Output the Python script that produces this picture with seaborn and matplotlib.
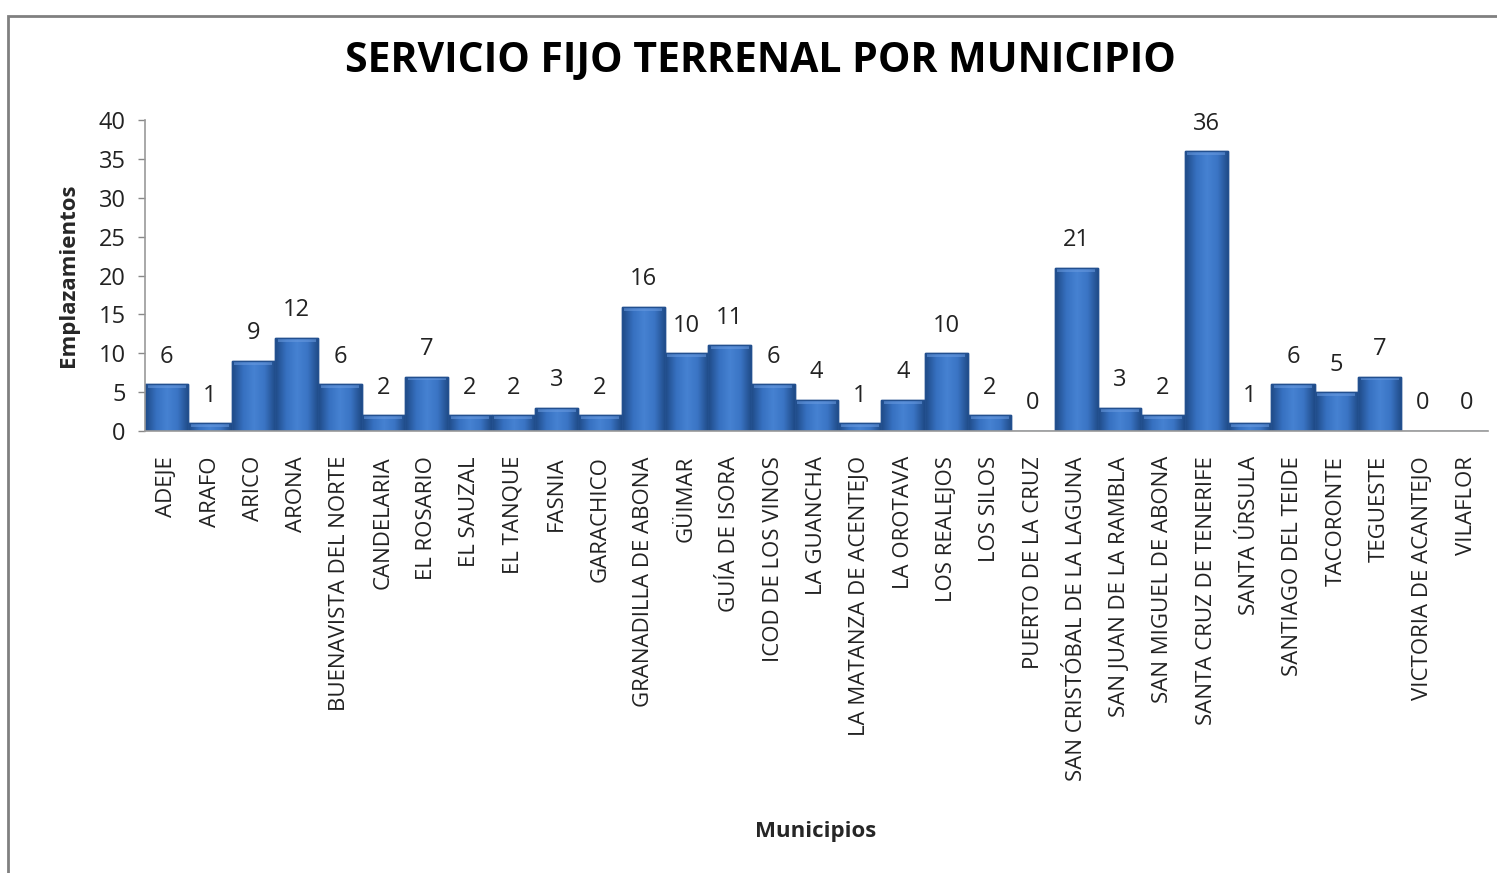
import matplotlib
matplotlib.use("Agg")
import matplotlib.pyplot as plt
import seaborn as sns
import pandas as pd
import numpy as np
from matplotlib.patches import Rectangle
from matplotlib.colors import LinearSegmentedColormap

municipios = ["ADEJE", "ARAFO", "ARICO", "ARONA", "BUENAVISTA DEL NORTE", "CANDELARIA",
              "EL ROSARIO", "EL SAUZAL", "EL TANQUE", "FASNIA", "GARACHICO",
              "GRANADILLA DE ABONA", "GÜIMAR", "GUÍA DE ISORA", "ICOD DE LOS VINOS",
              "LA GUANCHA", "LA MATANZA DE ACENTEJO", "LA OROTAVA", "LOS REALEJOS",
              "LOS SILOS", "PUERTO DE LA CRUZ", "SAN CRISTÓBAL DE LA LAGUNA",
              "SAN JUAN DE LA RAMBLA", "SAN MIGUEL DE ABONA", "SANTA CRUZ DE TENERIFE",
              "SANTA ÚRSULA", "SANTIAGO DEL TEIDE", "TACORONTE", "TEGUESTE",
              "VICTORIA DE ACANTEJO", "VILAFLOR"]
emplazamientos = [6, 1, 9, 12, 6, 2, 7, 2, 2, 3, 2, 16, 10, 11, 6, 4, 1, 4, 10, 2, 0,
                  21, 3, 2, 36, 1, 6, 5, 7, 0, 0]
yticks = [0, 5, 10, 15, 20, 25, 30, 35, 40]

df = pd.DataFrame({"Municipios": municipios, "Emplazamientos": emplazamientos})

sns.set_theme(style="white")
plt.rcParams['font.family'] = ['Open Sans', 'DejaVu Sans']

fig = plt.figure(figsize=(14.97, 8.73), dpi=100)
ax = fig.add_axes([0.0969, 0.5063, 0.897, 0.3562])

sns.barplot(data=df, x="Municipios", y="Emplazamientos", color="#3A6FC1",
            width=1.0, saturation=1, edgecolor="#23508F", linewidth=1.0, ax=ax)

# bevel-like gradient fill clipped to each bar
cmap = LinearSegmentedColormap.from_list(
    "bev", ["#1F4A86", "#3670C0", "#4682D2", "#3A74C4", "#1F4A86"])
grad = np.linspace(0, 1, 64).reshape(1, -1)
for p in list(ax.patches):
    x0, y0 = p.get_x(), p.get_y()
    w, h = p.get_width(), p.get_height()
    if h <= 0:
        continue
    im = ax.imshow(grad, cmap=cmap, aspect="auto", extent=(x0, x0 + w, y0, y0 + h),
                   interpolation="bicubic", zorder=p.get_zorder() + 0.1)
    im.set_clip_path(p)
    # top bevel highlight
    top = min(0.5, h * 0.5)
    ax.add_patch(Rectangle((x0 + 0.06, y0 + h - top), w - 0.12, top * 0.9,
                           facecolor="#6A9BE0", edgecolor="none", alpha=0.55,
                           zorder=p.get_zorder() + 0.2))
    ax.add_patch(Rectangle((x0, y0), w, h, facecolor="none", edgecolor="#23508F",
                           linewidth=1.0, zorder=p.get_zorder() + 0.3))

ax.set_ylim(0, 40)
ax.set_xlim(-0.5, len(municipios) - 0.5)
ax.set_yticks(yticks)
ax.set_yticklabels([str(t) for t in yticks], fontsize=17, color="#222222")
ax.set_xticks(range(len(municipios)))
ax.set_xticklabels(municipios, rotation=90, fontsize=16, color="#222222")
ax.tick_params(axis="y", length=5, width=1, color="#888888", left=True, pad=9)
ax.tick_params(axis="x", length=0, pad=18)

for s in ["top", "right"]:
    ax.spines[s].set_visible(False)
for s in ["left", "bottom"]:
    ax.spines[s].set_color("#999999")
    ax.spines[s].set_linewidth(1.2)

for i, v in enumerate(emplazamientos):
    ax.text(i, v + 2.0, str(v), ha="center", va="bottom", fontsize=17, color="#222222")

ax.set_ylabel("Emplazamientos", fontsize=16, fontweight="bold", labelpad=14)
ax.set_xlabel("")
fig.text(0.545, 0.047, "Municipios", ha="center", va="center", fontsize=16, fontweight="bold")

fig.text(0.508, 0.93, "SERVICIO FIJO TERRENAL POR MUNICIPIO", ha="center", va="center",
         fontsize=29.5, fontweight="bold", color="#000000")

fig.patches.append(Rectangle((0.0053, -0.01), 1.2, 1.0008 - 0.0092, transform=fig.transFigure,
                             fill=False, edgecolor="#808080", linewidth=2, zorder=10))

fig.savefig("out.png", dpi=100)
